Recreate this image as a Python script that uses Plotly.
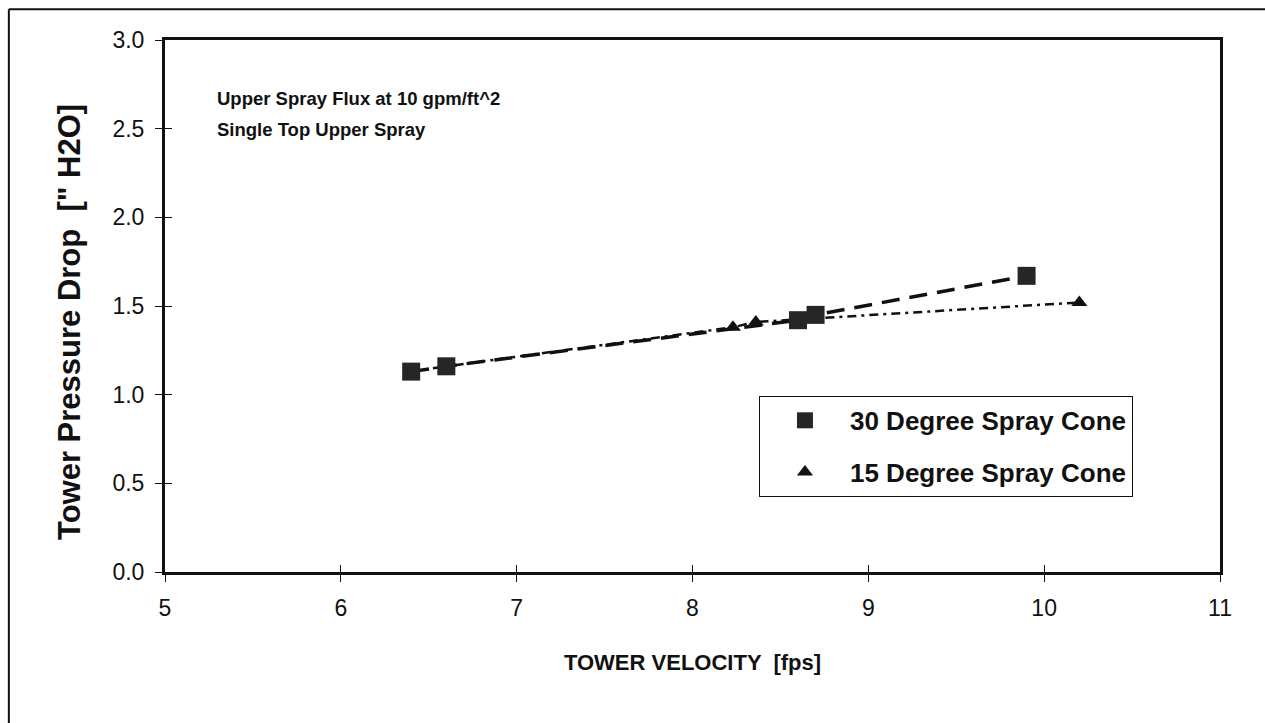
import plotly.graph_objects as go

# Data
x_30 = [6.4, 6.6, 8.6, 8.7, 9.9]
y_30 = [1.13, 1.16, 1.42, 1.45, 1.67]
x_15 = [6.4, 6.6, 8.23, 8.36, 10.2]
y_15 = [1.13, 1.16, 1.38, 1.41, 1.52]
name_30 = "30 Degree Spray Cone"
name_15 = "15 Degree Spray Cone"
x_ticks = [5, 6, 7, 8, 9, 10, 11]
y_ticks = [0.0, 0.5, 1.0, 1.5, 2.0, 2.5, 3.0]

FONT = "Liberation Sans, Arial, Helvetica, sans-serif"
INK = "#111111"

fig = go.Figure()

# connecting lines (no legend)
fig.add_trace(go.Scatter(x=x_15, y=y_15, mode="lines", showlegend=False,
                         line=dict(color=INK, width=2.5, dash="9px,5px,3px,5px")))
fig.add_trace(go.Scatter(x=x_30, y=y_30, mode="lines", showlegend=False,
                         line=dict(color=INK, width=3.5, dash="18px,10px")))
# markers
fig.add_trace(go.Scatter(x=x_15, y=y_15, mode="markers", name=name_15,
                         legendgroup="b", legendrank=2,
                         marker=dict(symbol="triangle-up", size=14, color=INK)))
fig.add_trace(go.Scatter(x=x_30, y=y_30, mode="markers", name=name_30,
                         legendgroup="a", legendrank=1,
                         marker=dict(symbol="square", size=18, color="#262626")))

# secondary axes for inward tick halves (ticks that cross the axis line)
fig.add_trace(go.Scatter(x=[None], y=[None], xaxis="x2", yaxis="y2",
                         showlegend=False, hoverinfo="skip"))

axis_common = dict(showgrid=False, zeroline=False, showline=True,
                   linecolor=INK, linewidth=3, ticks="outside", ticklen=7,
                   tickwidth=1, tickcolor=INK,
                   tickfont=dict(family=FONT, size=23, color=INK))

fig.update_layout(
    width=1265, height=723,
    margin=dict(l=165, r=45, t=40, b=151),
    paper_bgcolor="white", plot_bgcolor="white",
    font=dict(family=FONT, color=INK),
    xaxis=dict(range=[5, 11], tickvals=x_ticks, ticktext=[str(v) for v in x_ticks],
               mirror=True, ticklabelstandoff=6,
               title=dict(text="<b>TOWER VELOCITY  [fps]</b>",
                          font=dict(family=FONT, size=22, color=INK), standoff=36),
               **axis_common),
    yaxis=dict(range=[0, 3], tickvals=y_ticks, ticktext=[f"{v:.1f}" for v in y_ticks],
               mirror=True, ticklabelstandoff=6,
               **axis_common),
    xaxis2=dict(overlaying="x", matches="x", range=[5, 11], tickvals=x_ticks,
                showticklabels=False, ticks="inside", ticklen=7, tickcolor=INK,
                showgrid=False, zeroline=False, showline=False, side="bottom"),
    yaxis2=dict(overlaying="y", matches="y", range=[0, 3], tickvals=y_ticks,
                showticklabels=False, ticks="inside", ticklen=7, tickcolor=INK,
                showgrid=False, zeroline=False, showline=False, side="left"),
    legend=dict(x=0.563, y=0.331, xanchor="left", yanchor="top",
                bgcolor="white", bordercolor=INK, borderwidth=1,
                font=dict(family=FONT, size=26, color=INK),
                traceorder="grouped", tracegroupgap=15,
                itemwidth=80),
    showlegend=True,
)

fig.update_layout(legend_font_weight="bold")

# y-axis title as rotated annotation (placed where the reference shows it)
fig.add_annotation(xref="paper", yref="paper", x=-0.09, y=0.47, xanchor="center", yanchor="middle",
                   text="<b>Tower Pressure Drop  [\" H2O]</b>", textangle=-90, showarrow=False,
                   font=dict(family=FONT, size=31, color=INK))

fig.add_annotation(xref="paper", yref="paper", x=0.047, y=0.89, xanchor="left", yanchor="middle",
                   text="<b>Upper Spray Flux at 10 gpm/ft^2</b>", showarrow=False,
                   font=dict(family=FONT, size=18.5, color=INK))
fig.add_annotation(xref="paper", yref="paper", x=0.047, y=0.832, xanchor="left", yanchor="middle",
                   text="<b>Single Top Upper Spray</b>", showarrow=False,
                   font=dict(family=FONT, size=18.5, color=INK))

# outer frame (only top and left edges visible in the crop)
fig.add_shape(type="line", xref="paper", yref="paper", x0=-0.148, x1=1.06, y0=1.058, y1=1.058,
              line=dict(color=INK, width=2))
fig.add_shape(type="line", xref="paper", yref="paper", x0=-0.148, x1=-0.148, y0=1.058, y1=-0.32,
              line=dict(color=INK, width=2))

fig.write_html("out.html", config={"displayModeBar": False})
